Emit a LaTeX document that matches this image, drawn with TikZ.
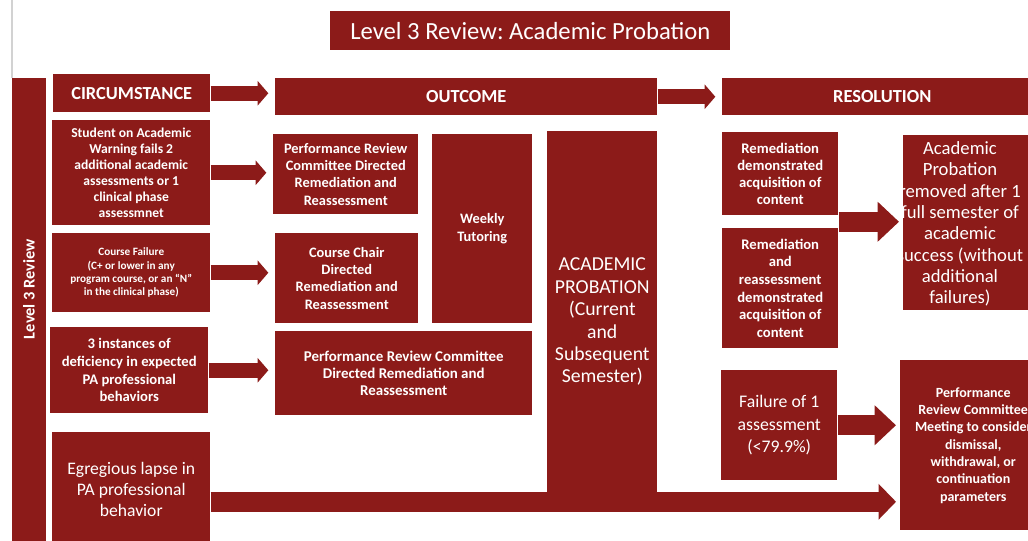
\documentclass[tikz,border=0pt]{standalone}
\usepackage{fontspec}
\setmainfont{Carlito}
\usetikzlibrary{arrows.meta,calc}
\frenchspacing

\definecolor{probred}{RGB}{140,27,25}
\newcommand\pxu{0.75pt}

\tikzset{
  blk/.style={fill=probred, text=white, align=center, inner sep=1pt, anchor=north west},
  sz/.style 2 args={minimum width=#1*\pxu, minimum height=#2*\pxu},
  fb/.style 2 args={font=\bfseries\fontsize{#1}{#2}\selectfont},
  fr/.style 2 args={font=\fontsize{#1}{#2}\selectfont},
  arr/.style={draw=probred, line width=11pt, -{Triangle[length=8pt,width=18pt]}, shorten >=5pt},
  bigarr/.style={draw=probred, line width=15pt, -{Triangle[length=16pt,width=29pt]}, shorten >=3pt}
}

\begin{document}
\begin{tikzpicture}[x=0.75pt, y=-0.75pt]
  \useasboundingbox (0,0) rectangle (1028,541);

  % heading and side bar
  \node[blk, sz={400}{39}, fr={18.5}{21}] (title) at (330,11) {Level 3 Review: Academic Probation};
  \node[blk, sz={34}{475}] (lvlbar) at (12,78) {};
  \node[text=white, fb={12.3}{14}, rotate=90] (lvltext) at (29,289) {Level 3 Review};
  \draw[gray!35, line width=0.8pt] (lvlbar.north west) -- ++(0,-78);

  % column heads
  \node[blk, sz={157}{38}, fb={13.8}{16}] (circ) at (53,74) {CIRCUMSTANCE};
  \node[blk, sz={382}{37}, fb={13.8}{16}] (outc) at (275,78) {OUTCOME};
  \node[blk, sz={320}{37}, fb={13.8}{16}] (resol) at (722,78) {RESOLUTION};

  % circumstances
  \node[blk, sz={158}{105}, fb={10.2}{12}] (stud) at (52,120)
    {Student on Academic\\Warning fails 2\\additional academic\\assessments or 1\\clinical phase\\assessmnet};
  \node[blk, sz={158}{79}, fb={8.4}{10}] (fail) at (52,233)
    {Course Failure\\(C+ or lower in any\\program course, or an “N”\\in the clinical phase)};
  \node[blk, sz={158}{86}, fb={11}{13.2}] (inst) at (50,327)
    {3 instances of\\deficiency in expected\\PA professional\\behaviors};
  \node[blk, sz={158}{115}, fr={13.2}{15.75}] (egr) at (52,432)
    {Egregious lapse in\\PA professional\\behavior};

  % outcomes
  \node[blk, sz={145}{80}, fb={10.8}{13}] (prc1) at (273,134)
    {Performance Review\\Committee Directed\\Remediation and\\Reassessment};
  \node[blk, sz={143}{90}, fb={10.8}{13}] (chair) at (275,233)
    {Course Chair\\Directed\\Remediation and\\Reassessment};
  \node[blk, sz={100}{189}, fb={10.8}{14}] (weekly) at (432,134) {Weekly\\Tutoring};
  \node[blk, sz={257}{84}, fb={11.2}{12.5}] (prcw) at (275,331)
    {Performance Review Committee\\Directed Remediation and\\Reassessment};
  \node[blk, sz={110}{381}, fr={14.8}{16.8}] (acad) at (547,131)
    {ACADEMIC\\PROBATION\\(Current\\and\\Subsequent\\Semester)};

  % resolutions
  \node[blk, sz={116}{83}, fb={11}{12.75}] (rem1) at (722,132)
    {Remediation\\demonstrated\\acquisition of\\content};
  \node[blk, sz={116}{120}, fb={11}{13.2}] (rem2) at (722,228)
    {Remediation\\and\\reassessment\\demonstrated\\acquisition of\\content};
  \coordinate (remmid) at ($(rem1.south east)!.5!(rem2.north east)$);
  \node[blk, sz={140}{175}] (remv) at (903,135) {};
  \node[text=white, align=center, fr={14}{16}] (remvtext) at (960,224)
    {Academic\\Probation\\removed after 1\\full semester of\\academic\\success (without\\additional\\failures)};
  \node[blk, sz={116}{110}, fr={13.3}{17}] (fail1) at (721,370)
    {Failure of 1\\assessment\\(<79.9\%)};
  \node[blk, sz={146}{170}, fb={10.5}{13}] (prcm) at (900,360)
    {Performance\\Review Committee\\Meeting to consider\\dismissal,\\withdrawal, or\\continuation\\parameters};

  % arrows
  \draw[arr] (circ.east) -- (circ.east -| outc.west);
  \draw[arr] (outc.east) -- (outc.east -| resol.west);
  \draw[arr] (stud.east) -- (stud.east -| prc1.west);
  \draw[arr] (fail.east) -- (fail.east -| chair.west);
  \draw[arr] (inst.east) -- (inst.east -| prcw.west);
  \draw[bigarr] (remmid) -- (remmid -| remv.west);
  \draw[bigarr] (fail1.east) -- (fail1.east -| prcm.west);
  \draw[bigarr, -{Triangle[length=13pt,width=26pt]}] ([yshift=-9pt]egr.east) -- ([yshift=-9pt]egr.east -| prcm.west);
\end{tikzpicture}
\end{document}
